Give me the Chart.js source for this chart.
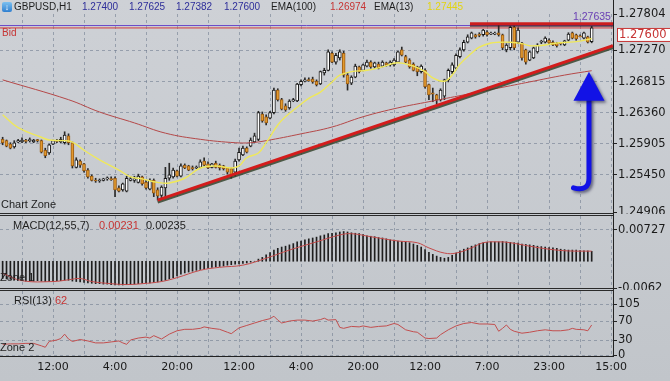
<!DOCTYPE html>
<html>
<head>
<meta charset="utf-8">
<script src="https://cdn.jsdelivr.net/npm/chart.js@4.4.0/dist/chart.umd.min.js"></script>
<style>
  html, body { margin: 0; padding: 0; }
  body {
    width: 670px; height: 381px; overflow: hidden; position: relative;
    background: linear-gradient(#ced1d6, #c1c5ca);
    font-family: "Liberation Sans", Arial, sans-serif;
  }
  canvas { position: absolute; left: 0; }
  .t { position: absolute; white-space: nowrap; font-size: 11px; line-height: 12px; color: #1e1e1e; }
  .h { font-size: 10px; top: 1px; }
  .blue { color: #2e2e9a; }
  .red { color: #c63434; }
  .sep { position: absolute; left: 0; width: 613px; height: 1px; background: #2a2a2a; }
  #axisLine { position: absolute; left: 613px; top: 0; width: 1px; height: 357px; background: #222; }
  #icon { position: absolute; left: 2px; top: 2px; width: 10px; height: 10px; border-radius: 2px;
          background: linear-gradient(#7cc0f0, #2f7fd0); color: #fff; font-size: 9px; line-height: 10px; text-align: center; }
</style>
</head>
<body>
<canvas id="main" width="670" height="214" style="top:0"></canvas>
<canvas id="macd" width="670" height="76" style="top:214px"></canvas>
<canvas id="rsi" width="670" height="91" style="top:290px"></canvas>

<div class="sep" style="top:213px"></div>
<div class="sep" style="top:215px"></div>
<div class="sep" style="top:288px"></div>
<div class="sep" style="top:290px"></div>
<div id="axisLine"></div>

<div id="icon">&#8595;</div>
<div class="t h" style="left:14px">GBPUSD,H1</div>
<div class="t h blue" style="left:82px">1.27400</div>
<div class="t h blue" style="left:129px">1.27625</div>
<div class="t h blue" style="left:176px">1.27382</div>
<div class="t h blue" style="left:224px">1.27600</div>
<div class="t h" style="left:271px">EMA(100)</div>
<div class="t h red" style="left:330px">1.26974</div>
<div class="t h" style="left:374px">EMA(13)</div>
<div class="t h" style="left:427px;color:#e2d410">1.27445</div>
<div class="t" style="left:573px;top:10px;font-size:10.5px;color:#6a40b4">1.27635</div>
<div class="t red" style="left:2px;top:27px;font-size:10px">Bid</div>
<div class="t" style="left:1px;top:198px">Chart Zone</div>
<div class="t" style="left:13px;top:219px">MACD(12,55,7)</div>
<div class="t red" style="left:99px;top:219px">0.00231</div>
<div class="t" style="left:146px;top:219px">0.00235</div>
<div class="t" style="left:0px;top:271px">Zone 1</div>
<div class="t" style="left:14px;top:294px">RSI(13)</div>
<div class="t red" style="left:55px;top:294px">62</div>
<div class="t" style="left:0px;top:341px">Zone 2</div>

<script>
// GBPUSD H1 candles, one per hour slot (index 0..152)
const open = [1.2597,1.2595,1.2590,1.2586,1.2593,1.2593,1.2595,1.2595,1.2593,1.2596,
  1.2595,1.2581,1.2577,1.2590,1.2595,1.2593,1.2592,1.2602,1.2592,1.2556,
  1.2565,1.2561,1.2552,1.2543,1.2537,1.2536,1.2537,1.2539,1.2539,1.2540,
  1.2526,1.2523,1.2521,1.2537,1.2537,1.2534,1.2542,1.2534,1.2524,1.2537,
  1.2523,1.2515,1.2526,1.2540,1.2542,1.2551,1.2543,1.2559,1.2558,1.2555,
  1.2555,1.2556,1.2565,1.2561,1.2556,1.2562,1.2559,1.2558,1.2555,1.2554,
  1.2549,1.2567,1.2574,1.2584,1.2587,1.2593,1.2597,1.2634,1.2630,1.2628,
  1.2636,1.2669,1.2655,1.2646,1.2643,1.2653,1.2653,1.2677,1.2682,1.2684,
  1.2685,1.2682,1.2678,1.2694,1.2698,1.2723,1.2710,1.2716,1.2723,1.2691,
  1.2679,1.2688,1.2703,1.2698,1.2704,1.2710,1.2703,1.2707,1.2704,1.2709,
  1.2706,1.2706,1.2710,1.2728,1.2718,1.2713,1.2707,1.2703,1.2696,1.2698,
  1.2677,1.2665,1.2662,1.2655,1.2660,1.2684,1.2696,1.2701,1.2718,1.2728,
  1.2739,1.2745,1.2750,1.2750,1.2750,1.2754,1.2751,1.2751,1.2753,1.2750,
  1.2728,1.2731,1.2761,1.2739,1.2738,1.2728,1.2713,1.2716,1.2725,1.2739,
  1.2739,1.2742,1.2739,1.2738,1.2738,1.2735,1.2742,1.2753,1.2750,1.2748,
  1.2745,1.2747,1.27400];
const high = [1.2600,1.2596,1.2592,1.2595,1.2597,1.2599,1.2597,1.2599,1.2597,1.2597,
  1.2596,1.2584,1.2590,1.2596,1.2597,1.2600,1.2608,1.2605,1.2593,1.2570,
  1.2567,1.2562,1.2554,1.2545,1.2540,1.2539,1.2540,1.2542,1.2542,1.2542,
  1.2529,1.2533,1.2543,1.2542,1.2543,1.2546,1.2543,1.2537,1.2539,1.2539,
  1.2526,1.2529,1.2556,1.2562,1.2555,1.2552,1.2561,1.2561,1.2559,1.2558,
  1.2558,1.2567,1.2570,1.2564,1.2562,1.2565,1.2561,1.2559,1.2556,1.2555,
  1.2568,1.2584,1.2587,1.2586,1.2599,1.2606,1.2638,1.2637,1.2633,1.2638,
  1.2672,1.2671,1.2657,1.2649,1.2655,1.2657,1.2679,1.2684,1.2687,1.2687,
  1.2688,1.2684,1.2697,1.2701,1.2728,1.2725,1.2723,1.2728,1.2726,1.2694,
  1.2690,1.2707,1.2704,1.2707,1.2713,1.2712,1.2710,1.2710,1.2712,1.2710,
  1.2712,1.2715,1.2726,1.2732,1.2720,1.2715,1.2709,1.2704,1.2706,1.2700,
  1.2678,1.2672,1.2663,1.2671,1.2685,1.2700,1.2709,1.2722,1.2731,1.2742,
  1.2750,1.2754,1.2751,1.2753,1.2758,1.2756,1.2754,1.2754,1.2764,1.2751,
  1.2737,1.2763,1.2763,1.2760,1.2739,1.2729,1.2726,1.2732,1.2737,1.2742,
  1.2747,1.2744,1.2741,1.2739,1.2739,1.2742,1.2753,1.2754,1.2751,1.2750,
  1.2754,1.2748,1.27625];
const low = [1.2589,1.2586,1.2583,1.2584,1.2592,1.2592,1.2592,1.2593,1.2592,1.2593,
  1.2577,1.2570,1.2575,1.2589,1.2592,1.2592,1.2590,1.2589,1.2555,1.2555,
  1.2556,1.2549,1.2540,1.2536,1.2534,1.2534,1.2536,1.2537,1.2537,1.2513,
  1.2520,1.2521,1.2520,1.2536,1.2534,1.2533,1.2530,1.2524,1.2523,1.2513,
  1.2508,1.2511,1.2513,1.2537,1.2540,1.2542,1.2542,1.2554,1.2551,1.2552,
  1.2554,1.2555,1.2558,1.2554,1.2555,1.2555,1.2552,1.2552,1.2546,1.2540,
  1.2543,1.2565,1.2573,1.2577,1.2586,1.2592,1.2595,1.2622,1.2618,1.2627,
  1.2634,1.2653,1.2640,1.2638,1.2641,1.2652,1.2652,1.2675,1.2681,1.2682,
  1.2679,1.2675,1.2677,1.2691,1.2697,1.2709,1.2707,1.2713,1.2688,1.2669,
  1.2677,1.2687,1.2694,1.2697,1.2703,1.2701,1.2701,1.2700,1.2703,1.2704,
  1.2704,1.2704,1.2709,1.2719,1.2709,1.2701,1.2697,1.2690,1.2694,1.2672,
  1.2655,1.2652,1.2649,1.2653,1.2655,1.2681,1.2693,1.2700,1.2716,1.2726,
  1.2738,1.2744,1.2745,1.2747,1.2748,1.2748,1.2750,1.2750,1.2748,1.2728,
  1.2725,1.2728,1.2728,1.2737,1.2713,1.2707,1.2712,1.2715,1.2723,1.2737,
  1.2738,1.2737,1.2734,1.2732,1.2735,1.2734,1.2741,1.2744,1.2742,1.2747,
  1.2744,1.2738,1.27382];
const close = [1.2592,1.2587,1.2584,1.2592,1.2595,1.2596,1.2594,1.2596,1.2596,1.2595,
  1.2578,1.2573,1.2589,1.2595,1.2594,1.2597,1.2603,1.2592,1.2558,1.2567,
  1.2559,1.2551,1.2542,1.2537,1.2536,1.2537,1.2539,1.2540,1.2538,1.2523,
  1.2521,1.2532,1.2540,1.2539,1.2539,1.2543,1.2532,1.2526,1.2537,1.2518,
  1.2514,1.2527,1.2540,1.2545,1.2552,1.2543,1.2558,1.2555,1.2552,1.2554,
  1.2556,1.2564,1.2559,1.2555,1.2561,1.2556,1.2555,1.2554,1.2549,1.2543,
  1.2565,1.2578,1.2584,1.2578,1.2596,1.2602,1.2636,1.2624,1.2621,1.2636,
  1.2669,1.2655,1.2641,1.2640,1.2653,1.2655,1.2678,1.2682,1.2684,1.2683,
  1.2681,1.2677,1.2696,1.2698,1.2725,1.2710,1.2720,1.2725,1.2691,1.2678,
  1.2688,1.2704,1.2696,1.2706,1.2710,1.2703,1.2709,1.2701,1.2710,1.2706,
  1.2710,1.2713,1.2725,1.2720,1.2710,1.2703,1.2698,1.2696,1.2704,1.2674,
  1.2662,1.2663,1.2655,1.2669,1.2684,1.2698,1.2706,1.2720,1.2728,1.2739,
  1.2747,1.2753,1.2747,1.2749,1.2757,1.2750,1.2752,1.2752,1.2750,1.2731,
  1.2735,1.2761,1.2731,1.2757,1.2716,1.2710,1.2725,1.2731,1.2735,1.2740,
  1.2745,1.2738,1.2735,1.2734,1.2737,1.2741,1.2751,1.2745,1.2744,1.2747,
  1.2753,1.2739,1.27600];

// moving averages (bar index -> price)
const ema13X = [0,4,10,12,16,18,21,25,30,33,36,40,43,47,51,55,59,61,63,66,68,71,73,76,79,82,85,87,90,94,
  98,102,106,109,111,114,116,118,121,123,126,128,131,134,136,138,140,143,146,148,151,152];
const ema13 = [1.2633,1.2614,1.2600,1.2596,1.2595,1.2593,1.2581,1.2567,1.2552,1.2542,1.2539,1.2534,1.2533,1.2540,
  1.2555,1.2558,1.2555,1.2558,1.2570,1.2577,1.2592,1.2618,1.2630,1.2644,1.2657,1.2666,1.2681,1.2691,1.2696,1.2698,
  1.2703,1.2709,1.2704,1.2696,1.2687,1.2682,1.2691,1.2707,1.2723,1.2732,1.2738,1.2739,1.2739,1.2737,1.2734,1.2734,
  1.2735,1.2738,1.2739,1.2740,1.2743,1.27445];
const ema100X = [0,17,25,34,42,51,60,64,68,77,85,93,102,110,119,128,136,145,152];
const ema100 = [1.2684,1.2655,1.2637,1.2621,1.2606,1.2597,1.2592,1.2592,1.2595,1.2605,1.2615,1.2630,1.2643,
  1.2652,1.2662,1.2672,1.2681,1.2691,1.26974];

// drawn objects
const bidPrice = 1.27600;
const alertPrice = 1.27635;
const resistX = [120.6, 157.5];
const resistPrice = 1.2766;
const trendX = [40, 157.5];
const trendY = [1.2508, 1.2734];
const arrowX = [147.3, 151.3];          // hook end, shaft
const arrowY = [1.2523, 1.2540, 1.2655, 1.2696]; // bottom, hook start, head base, tip

// MACD(12,55,7)
const macd = [-0.0040,-0.0041,-0.0042,-0.0043,-0.0044,
  -0.0045,-0.0046,-0.0046,-0.0046,-0.0045,-0.0046,-0.0047,-0.0047,-0.0046,-0.0045,-0.0045,-0.0044,-0.0044,
  -0.0046,-0.0047,-0.0048,-0.0049,-0.0050,-0.0051,-0.0052,-0.0052,
  -0.0053,-0.0053,-0.0054,-0.0055,-0.0055,-0.0055,-0.0054,-0.0054,-0.0053,-0.0052,
  -0.0051,-0.0050,-0.0050,-0.0049,-0.0048,-0.0046,-0.0044,-0.0041,-0.0038,-0.0034,
  -0.0030,-0.0027,-0.0025,-0.0023,-0.0021,-0.0019,-0.0017,-0.0016,-0.0014,-0.0013,
  -0.0012,-0.0011,-0.0009,-0.0008,-0.0007,-0.0006,-0.0005,-0.0004,-0.0002,0.0000,
  0.0005,0.0009,0.0015,0.0020,0.0026,0.0030,0.0033,0.0035,0.0038,0.0041,
  0.0045,0.0047,0.0050,0.0052,0.0054,0.0056,0.0059,0.0061,0.0064,0.0065,
  0.0066,0.0068,0.0069,0.0068,0.0066,0.0065,0.0064,0.0062,0.0059,0.0058,
  0.0057,0.0055,0.0054,0.0052,0.0050,0.0049,0.0047,0.0046,0.0045,0.0043,
  0.0040,0.0037,0.0033,0.0027,0.0021,0.0016,0.0012,0.0009,0.0007,0.0009,
  0.0014,0.0019,0.0024,0.0028,0.0031,0.0035,0.0038,0.0041,0.0043,0.0044,
  0.0045,0.0045,0.0045,0.0046,0.0045,0.0044,0.0043,0.0042,0.0040,0.0039,
  0.0038,0.0037,0.0035,0.0034,0.0033,0.0032,0.0031,0.0030,0.0028,0.0027,
  0.0026,0.0026,0.0026,0.0025,0.0024,0.0024,0.00231];
const signalX = [0,5,13,17,20,23,28,32,36,41,45,51,56,62,68,74,81,87,90,95,102,107,110,114,117,121,124,128,131,136,141,146,152];
const signal = [-0.0028,-0.0045,-0.0047,-0.0043,-0.0040,-0.0047,-0.0052,-0.0054,-0.0052,-0.0047,-0.0038,-0.0021,
  -0.0014,-0.0009,0.0007,0.0026,0.0045,0.0061,0.0064,0.0057,0.0047,0.0043,0.0031,0.0019,0.0019,0.0031,0.0043,
  0.0045,0.0043,0.0035,0.0028,0.0024,0.00235];

// RSI(13)
const rsiX = [0,2,4,6,8,10,11,12,14,15,16,17,18,20,22,24,26,28,30,31,32,33,35,37,38,39,41,43,45,47,
  49,51,52,54,56,58,59,61,63,65,67,69,70,71,72,74,76,78,80,82,83,84,86,87,88,90,92,93,95,97,
  99,101,102,104,106,107,109,110,112,113,115,117,119,121,123,125,127,128,129,130,131,132,134,136,138,140,
  142,144,146,147,148,150,151,152];
const rsi = [22,23,23,24,24,19,16,28,31,34,43,33,28,32,29,25,25,27,29,25,22,31,35,37,35,40,33,43,50,53,
  53,55,58,55,53,47,44,56,61,66,71,75,80,72,66,70,72,72,70,73,76,72,73,57,55,59,58,60,57,59,
  60,65,63,52,48,47,35,34,35,42,52,60,65,67,64,64,63,49,55,62,53,49,45,47,50,52,
  50,50,52,55,53,52,50,62];

// axes
const priceTicks = [1.24906, 1.25450, 1.25905, 1.26360, 1.26815, 1.27270, 1.27804];
const macdTicks = [-0.0062, 0.00727];
const rsiTicks = [0, 30, 70, 105];
const gridIdx = [5,13,21,29,37,45,53,61,69,77,85,93,101,109,117,125,133,141,149,157];
const timeIdx = [13,29,45,61,77,93,109,125,141,157];
const timeLabels = ['12:00','4:00','20:00','12:00','4:00','20:00','12:00','7:00','23:00','15:00'];

const X_MIN = -0.68, X_MAX = 157.5;
const GRID = 'rgba(105,118,138,0.55)';
const UP = '#ffffff', DOWN = '#e39a2e';

Chart.defaults.font.family = '"DejaVu Sans", sans-serif';
Chart.defaults.font.size = 11;
Chart.defaults.color = '#1a1a1a';
Chart.defaults.animation = false;

function xAxis(labels) {
  return {
    type: 'linear', min: X_MIN, max: X_MAX, offset: false,
    afterBuildTicks: s => { s.ticks = gridIdx.map(value => ({ value })); },
    afterFit: s => { s.paddingLeft = 0; s.paddingRight = 0; s.height = labels ? 25 : 0; },
    border: { display: labels, color: '#222', dash: [3, 3] },
    grid: { color: GRID, drawTicks: false, offset: false },
    ticks: {
      display: labels, autoSkip: false, maxRotation: 0, padding: 5,
      callback: v => { const i = timeIdx.indexOf(v); return i >= 0 ? timeLabels[i] : ''; }
    }
  };
}

function yAxis(min, max, ticks, fmt) {
  return {
    position: 'right', min, max,
    afterBuildTicks: s => { s.ticks = ticks.map(value => ({ value })); },
    afterFit: s => { s.width = 57; s.paddingTop = 0; s.paddingBottom = 0; },
    border: { display: false, dash: [3, 3] },
    grid: {
      color: c => (c.tick && (c.tick.value === min || c.tick.value === max)) ? 'transparent' : GRID,
      tickLength: 4, tickColor: '#222', tickBorderDash: []
    },
    ticks: { padding: 1, font: { size: 11.5 }, callback: fmt }
  };
}

const common = {
  responsive: false, devicePixelRatio: 1,
  plugins: { legend: { display: false }, tooltip: { enabled: false } }
};

const shadowPlugin = {
  id: 'shadow',
  beforeDatasetDraw(chart, args) {
    const ds = chart.data.datasets[args.index];
    if (!ds.shadow) return;
    const c = chart.ctx;
    c.save();
    c.shadowColor = ds.shadow;
    c.shadowOffsetY = 2;
    c.shadowBlur = 0.5;
  },
  afterDatasetDraw(chart, args) {
    if (chart.data.datasets[args.index].shadow) chart.ctx.restore();
  }
};

const overlayPlugin = {
  id: 'overlay',
  afterDraw(chart) {
    const { ctx, chartArea, scales } = chart;
    const xs = scales.x, ys = scales.y;
    // blue arrow
    const hookX = xs.getPixelForValue(arrowX[0]);
    const shaftX = xs.getPixelForValue(arrowX[1]);
    const yBottom = ys.getPixelForValue(arrowY[0]);
    const yHook = ys.getPixelForValue(arrowY[1]);
    const yBase = ys.getPixelForValue(arrowY[2]);
    const yTip = ys.getPixelForValue(arrowY[3]);
    const hw = xs.getPixelForValue(arrowX[1] + 4) - shaftX;
    ctx.save();
    ctx.shadowColor = 'rgba(20,20,60,0.55)';
    ctx.shadowBlur = 3; ctx.shadowOffsetX = 2; ctx.shadowOffsetY = 2;
    ctx.strokeStyle = '#1212e6'; ctx.fillStyle = '#1212e6';
    ctx.lineWidth = 5; ctx.lineCap = 'round';
    ctx.beginPath();
    ctx.moveTo(shaftX, yBase);
    ctx.lineTo(shaftX, yHook);
    ctx.quadraticCurveTo(shaftX, yBottom + 2, hookX, yBottom - 2);
    ctx.stroke();
    ctx.beginPath();
    ctx.moveTo(shaftX, yTip);
    ctx.lineTo(shaftX - hw, yBase + 1);
    ctx.lineTo(shaftX + hw, yBase + 1);
    ctx.closePath();
    ctx.fill();
    ctx.restore();
    // current bid box on the price axis
    const yb = ys.getPixelForValue(bidPrice);
    ctx.save();
    ctx.fillStyle = '#ffffff';
    ctx.fillRect(chartArea.right + 4, yb, 53, 13);
    ctx.strokeStyle = '#c63434'; ctx.lineWidth = 1;
    ctx.strokeRect(chartArea.right + 4.5, yb + 0.5, 53, 13);
    ctx.fillStyle = '#c63434';
    ctx.font = '11.5px "DejaVu Sans"';
    ctx.textBaseline = 'middle';
    ctx.fillText(bidPrice.toFixed(5), chartArea.right + 6, yb + 7);
    ctx.restore();
  }
};

const idx = close.map((_, i) => i);

new Chart(document.getElementById('main'), {
  type: 'bar',
  data: {
    datasets: [
      { type: 'line', data: resistX.map(x => ({ x, y: resistPrice })), borderColor: '#cc1e1e', borderWidth: 3,
        pointRadius: 0, shadow: 'rgba(60,30,30,0.6)' },
      { type: 'line', data: trendX.map((x, i) => ({ x, y: trendY[i] })), borderColor: '#d41c1c', borderWidth: 3,
        pointRadius: 0, shadow: 'rgba(45,60,35,0.8)' },
      { type: 'line', data: ema13X.map((x, i) => ({ x, y: ema13[i] })), borderColor: '#efe85a', borderWidth: 1.4,
        pointRadius: 0, tension: 0.4 },
      { type: 'line', data: ema100X.map((x, i) => ({ x, y: ema100[i] })), borderColor: '#b44848', borderWidth: 1,
        pointRadius: 0, tension: 0.4 },
      { data: idx.map(i => ({ x: i, y: [open[i], close[i]] })), grouped: false, barThickness: 3, minBarLength: 1,
        backgroundColor: idx.map(i => close[i] >= open[i] ? UP : DOWN),
        borderColor: idx.map(i => close[i] >= open[i] ? '#1a1a1a' : '#9a5c14'),
        borderWidth: 1, borderSkipped: false },
      { data: idx.map(i => ({ x: i, y: [low[i], high[i]] })), grouped: false, barThickness: 1,
        backgroundColor: '#2a2a2a' },
      { type: 'line', data: [{ x: X_MIN, y: bidPrice }, { x: X_MAX, y: bidPrice }], borderColor: '#d23a3a',
        borderWidth: 1, pointRadius: 0 },
      { type: 'line', data: [{ x: X_MIN, y: alertPrice }, { x: X_MAX, y: alertPrice }], borderColor: '#6a48c8',
        borderWidth: 1, pointRadius: 0 }
    ]
  },
  options: {
    ...common,
    layout: { padding: { top: 14, bottom: 2, left: 0, right: 0 } },
    scales: {
      x: xAxis(false),
      y: yAxis(1.24906, 1.27804, priceTicks, v => v.toFixed(5))
    }
  },
  plugins: [shadowPlugin, overlayPlugin]
});

new Chart(document.getElementById('macd'), {
  type: 'bar',
  data: {
    datasets: [
      { type: 'line', data: signalX.map((x, i) => ({ x, y: signal[i] })), borderColor: '#c44a4a', borderWidth: 1,
        pointRadius: 0, tension: 0.4 },
      { data: macd.map((y, i) => ({ x: i, y })), grouped: false, barThickness: 1, backgroundColor: '#1e1e1e' }
    ]
  },
  options: {
    ...common,
    layout: { padding: { top: 2, bottom: 2, left: 0, right: 0 } },
    scales: {
      x: xAxis(false),
      y: yAxis(-0.0062, 0.0105, macdTicks, v => String(v))
    }
  }
});

new Chart(document.getElementById('rsi'), {
  type: 'line',
  data: {
    datasets: [
      { data: rsiX.map((x, i) => ({ x, y: rsi[i] })), borderColor: '#c24e4e', borderWidth: 1, pointRadius: 0 }
    ]
  },
  options: {
    ...common,
    layout: { padding: { top: 1, bottom: 0, left: 0, right: 0 } },
    scales: {
      x: xAxis(true),
      y: yAxis(-2, 132, rsiTicks, v => String(v))
    }
  }
});
</script>
</body>
</html>
